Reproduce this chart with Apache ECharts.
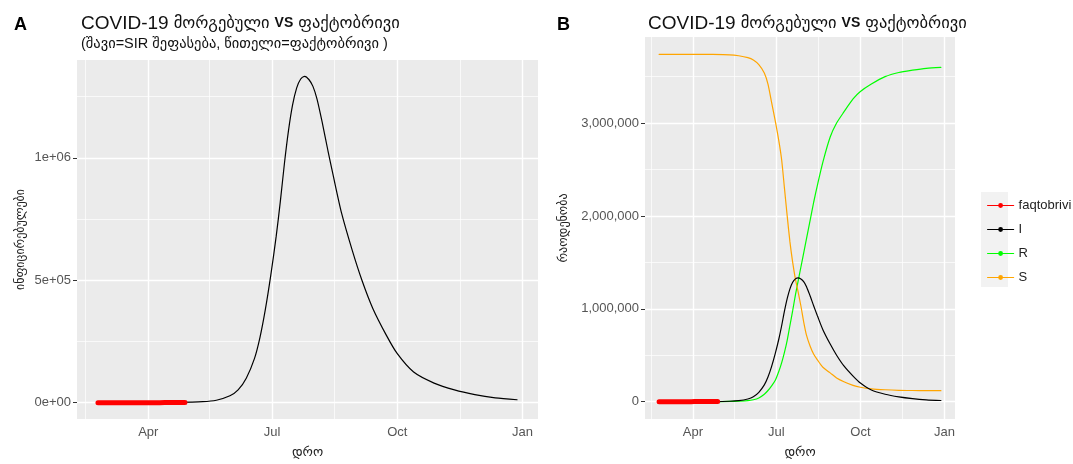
<!DOCTYPE html>
<html>
<head>
<meta charset="utf-8">
<script src="https://cdn.jsdelivr.net/npm/echarts@6/dist/echarts.min.js"></script>
<style>
  html, body { margin: 0; padding: 0; background: #ffffff; }
  #chart { width: 1073px; height: 464px; }
</style>
</head>
<body>
<div id="chart"></div>
<script>
// SIR model output (Georgia, 2020)
const modelDates = [
  '2020-02-24','2020-03-12','2020-04-01','2020-04-21','2020-05-11','2020-05-21','2020-05-31',
  '2020-06-06','2020-06-12','2020-06-18','2020-06-22','2020-06-26','2020-06-30','2020-07-04',
  '2020-07-07','2020-07-10','2020-07-13','2020-07-16','2020-07-19','2020-07-22','2020-07-25',
  '2020-07-28','2020-07-31','2020-08-03','2020-08-07','2020-08-11','2020-08-15','2020-08-21',
  '2020-08-29','2020-09-05','2020-09-13','2020-09-23','2020-10-01','2020-10-13','2020-10-28',
  '2020-11-12','2020-11-27','2020-12-12','2020-12-28'
];
const modelI = [
  10, 40, 200, 1000, 4000, 10000, 28000,
  52000, 100000, 180000, 265000, 380000, 520000, 680000,
  820000, 975000, 1110000, 1215000, 1285000, 1322000, 1333000,
  1320000, 1292000, 1240000, 1140000, 1030000, 925000, 775000,
  620000, 500000, 385000, 275000, 200000, 125000, 80000,
  52000, 33000, 20000, 12000
];
const modelR = [
  0, 0, 0, 200, 2000, 5000, 10000,
  20000, 40000, 80000, 120000, 170000, 230000, 330000,
  420000, 530000, 660000, 820000, 980000, 1150000, 1300000,
  1450000, 1600000, 1750000, 1950000, 2150000, 2330000, 2580000,
  2850000, 3000000, 3120000, 3260000, 3340000, 3420000, 3500000,
  3545000, 3570000, 3590000, 3600000
];
const modelS = [
  3740000, 3740000, 3740000, 3739000, 3735000, 3725000, 3705000,
  3680000, 3630000, 3540000, 3420000, 3220000, 3020000, 2800000,
  2600000, 2300000, 2000000, 1720000, 1500000, 1320000, 1180000,
  1030000, 860000, 720000, 600000, 510000, 450000, 370000,
  310000, 255000, 215000, 175000, 155000, 138000, 128000,
  122000, 120000, 119000, 118000
];

// reported active cases
const actualDates = [
  '2020-02-24','2020-03-02','2020-03-09','2020-03-16','2020-03-23',
  '2020-03-30','2020-04-06','2020-04-13','2020-04-20','2020-04-28'
];
const actualCases = [0, 3, 15, 33, 54, 100, 170, 240, 300, 350];

// axis breaks
const xMajorTicks = ['2020-04-01', '2020-07-01', '2020-10-01', '2021-01-01'];
const xMajorLabels = ['Apr', 'Jul', 'Oct', 'Jan'];
const xMinorTicks = ['2020-02-15', '2020-05-16', '2020-08-16', '2020-11-16'];
const yTicksA = [0, 500000, 1000000];
const yLabelsA = ['0e+00', '5e+05', '1e+06'];
const yMinorA = [250000, 750000, 1250000];
const yTicksB = [0, 1000000, 2000000, 3000000];
const yLabelsB = ['0', '1,000,000', '2,000,000', '3,000,000'];
const yMinorB = [500000, 1500000, 2500000, 3500000];

const COLORS = { faqtobrivi: '#ff0000', I: '#000000', R: '#00ff00', S: '#ffa500' };

const ts = d => new Date(d + 'T00:00:00Z').getTime();
const zip = (xs, ys) => xs.map((d, i) => [ts(d), ys[i]]);

const allTimes = modelDates.concat(actualDates).map(ts);
const tMin = Math.min.apply(null, allTimes);
const tMax = Math.max.apply(null, allTimes);
const tPad = (tMax - tMin) * 0.05;

const maxA = Math.max.apply(null, modelI.concat(actualCases));
const maxB = Math.max.apply(null, modelI.concat(modelR, modelS, actualCases));

const FONT = '"Liberation Sans", "DejaVu Sans", Arial, sans-serif';
const xLabelMap = {};
xMajorTicks.forEach((d, i) => { xLabelMap[ts(d)] = xMajorLabels[i]; });

function xAxisFor(gridIndex) {
  return {
    type: 'value', gridIndex: gridIndex,
    min: tMin - tPad, max: tMax + tPad,
    name: 'დრო', nameLocation: 'middle', nameGap: 27,
    nameTextStyle: { fontFamily: FONT, fontSize: 13, color: '#222' },
    axisLine: { show: false },
    splitLine: { show: false },
    axisTick: { show: true, customValues: xMajorTicks.map(ts), length: 4,
                lineStyle: { color: '#333', width: 1 } },
    axisLabel: { customValues: xMajorTicks.map(ts), margin: 7,
                 fontFamily: FONT, fontSize: 13, color: '#555555',
                 formatter: v => xLabelMap[v] || '' }
  };
}

function yAxisFor(gridIndex, maxVal, ticks, labels, title, gap) {
  const pad = maxVal * 0.05;
  const map = {};
  ticks.forEach((v, i) => { map[v] = labels[i]; });
  return {
    type: 'value', gridIndex: gridIndex,
    min: -pad, max: maxVal + pad,
    name: title, nameLocation: 'middle', nameGap: gap,
    nameTextStyle: { fontFamily: FONT, fontSize: 12, color: '#222' },
    axisLine: { show: false },
    splitLine: { show: false },
    axisTick: { show: true, customValues: ticks, length: 4,
                lineStyle: { color: '#333', width: 1 } },
    axisLabel: { customValues: ticks, margin: 6,
                 fontFamily: FONT, fontSize: 13, color: '#555555',
                 formatter: v => map[v] !== undefined ? map[v] : '' }
  };
}

// white panel grid drawn as mark lines under the data
function panelGrid(xi, yi, yMajor, yMinor) {
  const major = { color: '#ffffff', width: 1.4, type: 'solid' };
  const minor = { color: '#ffffff', width: 0.7, type: 'solid' };
  const lines = []
    .concat(xMinorTicks.map(d => ({ xAxis: ts(d), lineStyle: minor })))
    .concat(yMinor.map(v => ({ yAxis: v, lineStyle: minor })))
    .concat(xMajorTicks.map(d => ({ xAxis: ts(d), lineStyle: major })))
    .concat(yMajor.map(v => ({ yAxis: v, lineStyle: major })));
  return {
    type: 'line', xAxisIndex: xi, yAxisIndex: yi, data: [], z: 1,
    silent: true, legendHoverLink: false,
    markLine: { silent: true, z: 1, symbol: ['none', 'none'], label: { show: false },
                animation: false, emphasis: { disabled: true }, data: lines }
  };
}

function lineSeries(name, xi, yi, data, width, z) {
  const color = COLORS[name];
  return {
    name: name, type: 'line', xAxisIndex: xi, yAxisIndex: yi,
    data: data, symbol: 'circle', showSymbol: false, smooth: 0.25,
    color: color, lineStyle: { color: color, width: width, cap: 'round' },
    z: z, animation: false, emphasis: { disabled: true }
  };
}

const titleRich = {
  a: { fontFamily: FONT, fontSize: 19, fontWeight: 'normal', color: '#111' },
  g: { fontFamily: FONT, fontSize: 16.5, fontWeight: 'normal', color: '#111' },
  v: { fontFamily: FONT, fontSize: 14, fontWeight: 'bold', color: '#111' }
};

const chart = echarts.init(document.getElementById('chart'), null, { renderer: 'canvas' });

chart.setOption({
  backgroundColor: '#ffffff',
  animation: false,
  textStyle: { fontFamily: FONT },
  title: [
    { text: 'A', left: 9, top: 11, textStyle: { fontFamily: FONT, fontSize: 18, fontWeight: 'bold', color: '#000' } },
    { text: '{a|COVID-19} {g|მორგებული} {v|VS} {g|ფაქტობრივი}', left: 76, top: 9,
      textStyle: { fontWeight: 'normal', rich: titleRich } },
    { text: '(შავი=SIR შეფასება, წითელი=ფაქტობრივი )', left: 76, top: 31,
      textStyle: { fontFamily: FONT, fontSize: 14.5, fontWeight: 'normal', color: '#111' } },
    { text: 'B', left: 552, top: 11, textStyle: { fontFamily: FONT, fontSize: 18, fontWeight: 'bold', color: '#000' } },
    { text: '{a|COVID-19} {g|მორგებული} {v|VS} {g|ფაქტობრივი}', left: 643, top: 9,
      textStyle: { fontWeight: 'normal', rich: titleRich } }
  ],
  grid: [
    { left: 77, top: 60, width: 461, height: 360, show: true,
      backgroundColor: '#ebebeb', borderWidth: 0, containLabel: false },
    { left: 645, top: 37, width: 310, height: 383, show: true,
      backgroundColor: '#ebebeb', borderWidth: 0, containLabel: false }
  ],
  xAxis: [xAxisFor(0), xAxisFor(1)],
  yAxis: [
    yAxisFor(0, maxA, yTicksA, yLabelsA, 'ინფიცირებულები', 50),
    yAxisFor(1, maxB, yTicksB, yLabelsB, 'რაოდენობა', 75)
  ],
  legend: {
    orient: 'vertical', left: 982, top: 194,
    itemWidth: 26, itemHeight: 6, itemGap: 11,
    selectedMode: false,
    textStyle: { fontFamily: FONT, fontSize: 13, color: '#222' },
    data: ['faqtobrivi', 'I', 'R', 'S'].map(n => ({
      name: n,
      itemStyle: { color: COLORS[n] },
      lineStyle: { color: COLORS[n], width: 1.2 }
    }))
  },
  graphic: [
    { type: 'rect', left: 981, top: 192, shape: { width: 27, height: 95 },
      style: { fill: '#f2f2f2' }, z: -10, silent: true }
  ],
  series: [
    panelGrid(0, 0, yTicksA, yMinorA),
    lineSeries('I', 0, 0, zip(modelDates, modelI), 1.2, 3),
    lineSeries('faqtobrivi', 0, 0, zip(actualDates, actualCases), 5, 5),

    panelGrid(1, 1, yTicksB, yMinorB),
    lineSeries('R', 1, 1, zip(modelDates, modelR), 1.2, 3),
    lineSeries('S', 1, 1, zip(modelDates, modelS), 1.2, 3),
    lineSeries('I', 1, 1, zip(modelDates, modelI), 1.2, 4),
    lineSeries('faqtobrivi', 1, 1, zip(actualDates, actualCases), 5, 5)
  ]
});
</script>
</body>
</html>
